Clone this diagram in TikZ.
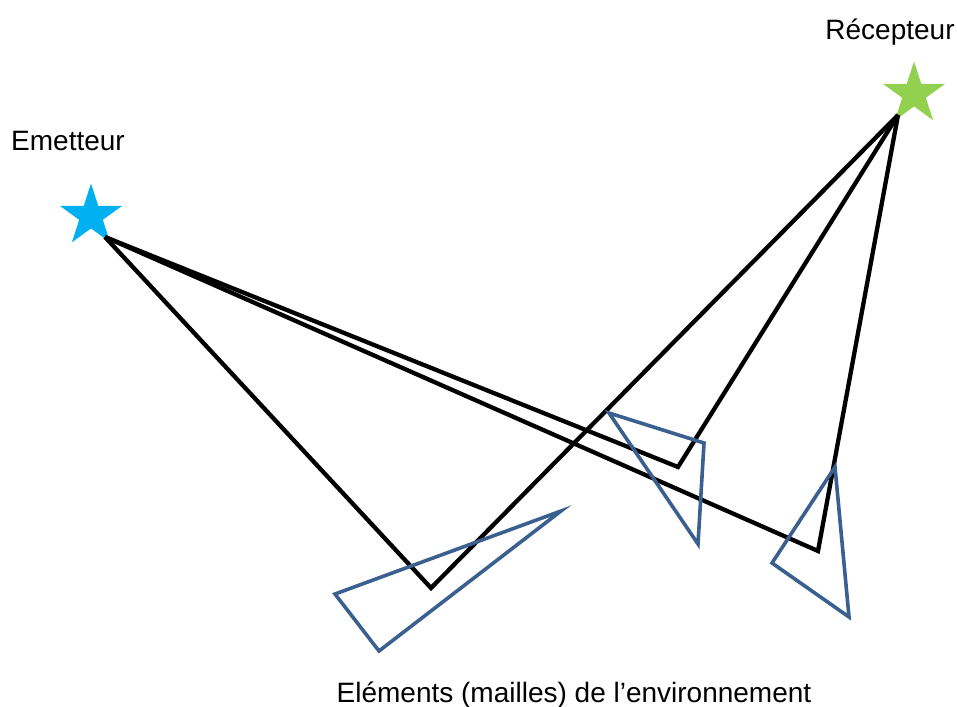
\documentclass[tikz,border=0pt]{standalone}
\usepackage{fontspec}
\setmainfont{Liberation Sans}
\usetikzlibrary{shapes.geometric}
\definecolor{starblue}{HTML}{00B0F0}
\definecolor{stargreen}{HTML}{92D050}
\definecolor{meshblue}{HTML}{3A6090}
\begin{document}
\begin{tikzpicture}
  [x=1pt,y=-1pt,
  antenna/.style={star,star points=5,star point ratio=2.618,inner sep=0pt,minimum size=65pt},
  ray/.style={line width=4.3pt,line join=miter},
  mesh/.style={draw=meshblue,line width=3.6pt,line join=miter},
  lbl/.style={anchor=base,font=\fontsize{28}{32}\selectfont}]
  \useasboundingbox (0,0) rectangle (957,706);

  \node[antenna,fill=starblue] (emetteur) at (91,216) {};
  \node[antenna,fill=stargreen] (recepteur) at (914,94) {};
  \node[lbl] (lemetteur) at (68,150) {Emetteur};
  \node[lbl] (lrecepteur) at (890,40) {Récepteur};
  \node[lbl] (lmailles) at (574,702) {Eléments (mailles) de l’environnement};

  \coordinate (e) at (105,237);
  \coordinate (r) at (898,115);
  \coordinate (p1) at (431,588);
  \coordinate (p2) at (678,467);
  \coordinate (p3) at (818,551);

  \draw[ray] (e) -- (p1) -- (r);
  \draw[ray] (e) -- (p2) -- (r);
  \draw[ray] (e) -- (p3) -- (r);

  \draw[mesh] (335,594) -- (561,511) -- (379,651) -- cycle;
  \draw[mesh] (609,413) -- (704,443) -- (698,544) -- cycle;
  \draw[mesh] (835,467) -- (849,617) -- (772,563) -- cycle;

\end{tikzpicture}
\end{document}
